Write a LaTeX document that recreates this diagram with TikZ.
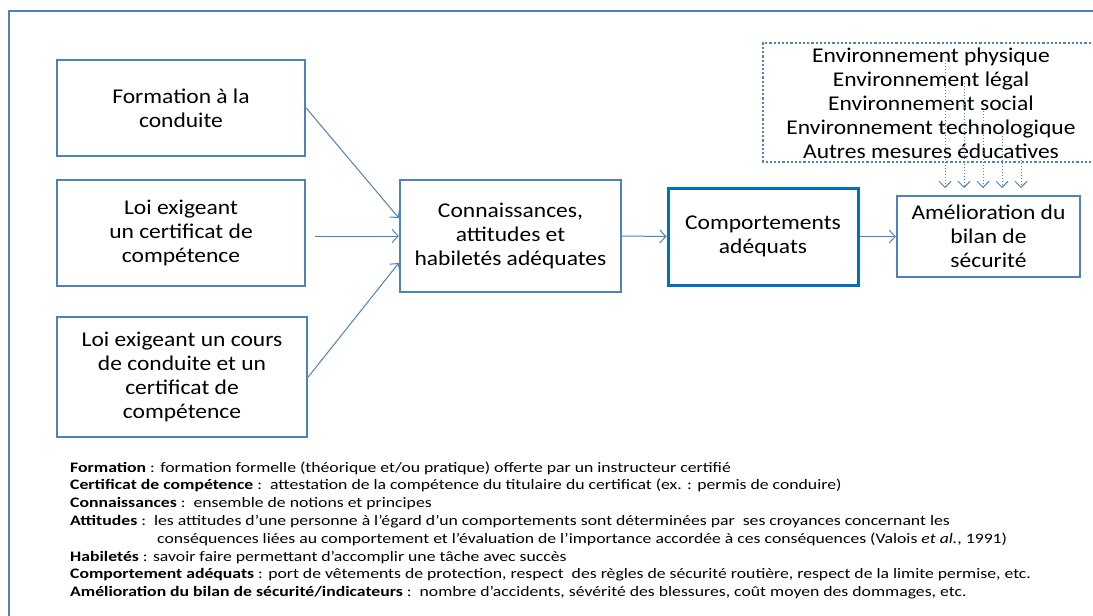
\documentclass[tikz,border=0pt]{standalone}
\usepackage{fontspec}
\setmainfont{Carlito}
\newfontfamily\boxfont[FakeStretch=1.12]{Carlito}
\newfontfamily\legfont[FakeStretch=1.22]{Carlito}
\usetikzlibrary{arrows.meta}
\definecolor{bl}{HTML}{4F81BD}
\definecolor{dbl}{HTML}{0070C0}
\tikzset{
  box/.style={draw=bl, line width=2.4pt, fill=white, align=center, inner sep=2pt,
    font=\boxfont\fontsize{21}{24}\selectfont},
  arr/.style={draw=bl, line width=1pt, -{Straight Barb[length=6pt,width=13pt]}},
  darr/.style={draw=bl, line width=1pt, dotted, -{Straight Barb[length=6pt,width=12pt]}},
  leg/.style={anchor=base west, inner sep=0pt, font=\legfont\fontsize{14.5}{16}\selectfont},
}
\begin{document}
\begin{tikzpicture}[x=1pt,y=-1pt]
\useasboundingbox (0,0) rectangle (1093,616);
% outer frame (cropped)
\draw[bl, line width=2.4pt] (9,1000) -- (9,11) -- (1200,11);
% dotted environment box
\draw[bl, line width=2.2pt, dotted] (1200,43) -- (763,43) -- (763,162) -- (1200,162);
\node[align=center, inner sep=0pt, font=\boxfont\fontsize{21}{24}\selectfont] (env) at (931,103)
 {Environnement physique\\Environnement légal\\Environnement social\\Environnement technologique\\Autres mesures éducatives};
% boxes
\node[box, minimum width=248pt, minimum height=96pt] (b1) at (181,108) {Formation à la\\conduite};
\node[box, minimum width=248pt, minimum height=106pt] (b2) at (181,233) {Loi exigeant\\un certificat de\\compétence};
\node[box, minimum width=250pt, minimum height=120pt] (b3) at (182,377) {Loi exigeant un cours\\de conduite et un\\certificat de\\compétence};
\node[box, minimum width=221pt, minimum height=112pt] (b4) at (510.5,236) {Connaissances,\\attitudes et\\habiletés adéquates};
\node[box, draw=dbl, line width=3pt, minimum width=190pt, minimum height=97pt] (b5) at (763,236.5) {Comportements\\adéquats};
\node[box, minimum width=183pt, minimum height=81pt] (b6) at (988.5,236.5) {Amélioration du\\bilan de\\sécurité};
% arrows
\draw[arr] (b1.east) -- ([yshift=18pt]b4.west);
\draw[arr] ([xshift=9pt]b2.east |- b4.west) -- (b4.west);
\draw[arr] (b3.east) -- ([yshift=-27pt]b4.west);
\draw[arr] (b4.east) -- (b5.west);
\draw[arr] (b5.east) -- (b6.west);
% dotted arrows
\coordinate (s1) at (945,60);  \coordinate (e1) at (945,188);
\coordinate (s2) at (964,83);  \coordinate (e2) at (964,188);
\coordinate (s3) at (983,108); \coordinate (e3) at (983,188);
\coordinate (s4) at (1002,133);\coordinate (e4) at (1002,188);
\coordinate (s5) at (1021,157);\coordinate (e5) at (1021,188);
\foreach \i in {1,...,5} {\draw[darr] (s\i) -- (e\i);}
% legend
\node[leg] (l1) at (70,472) {\textbf{Formation} : formation formelle (théorique et/ou pratique) offerte par un instructeur certifié};
\node[leg] (l2) at (70,489.8) {\textbf{Certificat de compétence} :\ \ attestation de la compétence du titulaire du certificat (ex. : permis de conduire)};
\node[leg] (l3) at (70,507.6) {\textbf{Connaissances} :\ \ ensemble de notions et principes};
\node[leg] (l4) at (70,525.4) {\textbf{Attitudes} :\ \ les attitudes d’une personne à l’égard d’un comportements sont déterminées par\ \ ses croyances concernant les};
\node[leg] (l5) at (157,543.2) {conséquences liées au comportement et l’évaluation de l’importance accordée à ces conséquences (Valois \textit{et al.}, 1991)};
\node[leg] (l6) at (70,561) {\textbf{Habiletés} : savoir faire permettant d’accomplir une tâche avec succès};
\node[leg] (l7) at (70,578.8) {\textbf{Comportement adéquats} : port de vêtements de protection, respect\ \ des règles de sécurité routière, respect de la limite permise, etc.};
\node[leg] (l8) at (70,596.6) {\textbf{Amélioration du bilan de sécurité/indicateurs} :\ \ nombre d’accidents, sévérité des blessures, coût moyen des dommages, etc.};
\end{tikzpicture}
\end{document}
